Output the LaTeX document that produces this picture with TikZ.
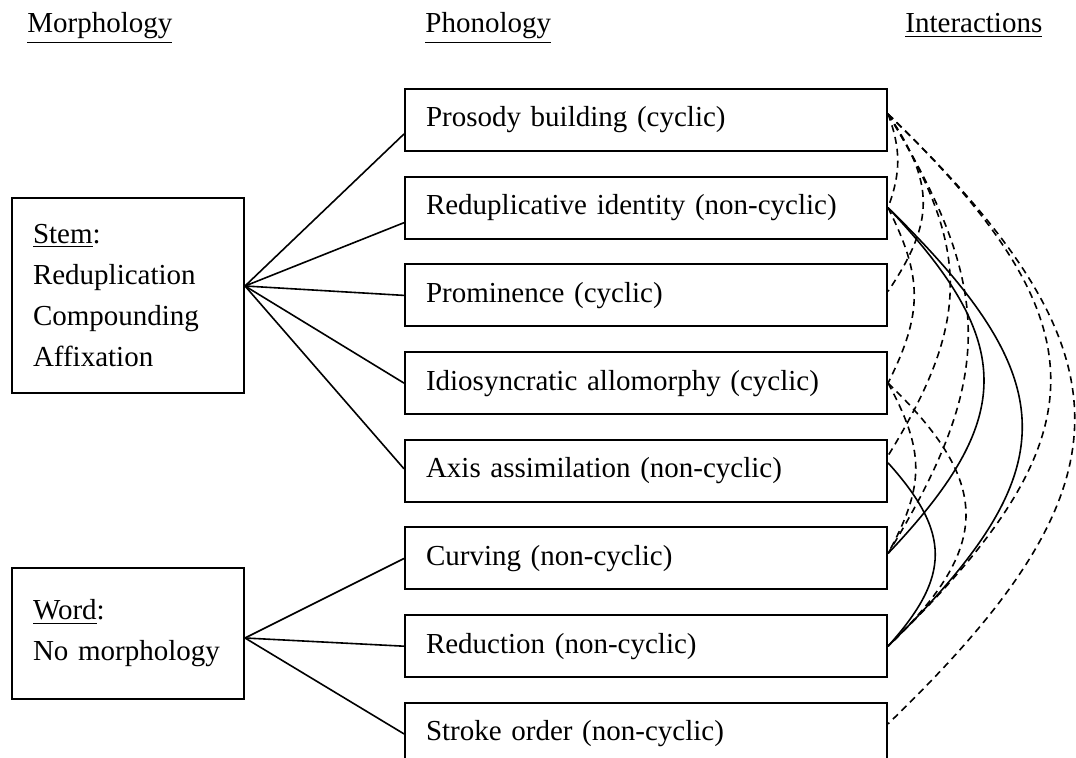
\documentclass[tikz,border=0pt]{standalone}
\usepackage{fontspec}
\setmainfont{Liberation Serif}
\begin{document}
\begin{tikzpicture}[x=0.5pt, y=-0.5pt, font=\fontsize{14.5}{20.5}\selectfont,
  phon/.style={draw, line width=1pt, anchor=north west, minimum height=31pt,
    text width=220pt, inner xsep=10.5pt, align=left},
  morph/.style={draw, line width=1pt, anchor=north west, text width=95pt,
    inner xsep=10.5pt, align=left},
  head/.style={anchor=base west, inner sep=0pt},
  fan/.style={line width=0.8pt},
  link/.style={line width=0.8pt},
  dlink/.style={line width=0.8pt, dash pattern=on 3.5pt off 2.5pt}]

  % ---- canvas (pixel units, y down) ----
  \useasboundingbox (0,0) rectangle (1076,758);
  \clip (0,0) rectangle (1076,758);

  % ---- column headings ----
  \node[head] (hmorph) at (27,33)  {\underline{Morphology}};
  \node[head] (hphon)  at (425,33) {\underline{Phonology}};
  \node[head] (hint)   at (905,33) {\underline{Interactions}};

  % ---- morphology boxes ----
  \node[morph, minimum height=97.5pt] (stem) at (11,197)
    {\underline{Stem}:\\Reduplication\\Compounding\\Affixation};
  \node[morph, minimum height=65.5pt] (word) at (11,567)
    {\underline{Word}:\\No morphology};

  % ---- phonology boxes, pitch 87.7 px ----
  \foreach \i/\txt in {1/{Prosody building (cyclic)},
                       2/{Reduplicative identity (non-cyclic)},
                       3/{Prominence (cyclic)},
                       4/{Idiosyncratic allomorphy (cyclic)},
                       5/{Axis assimilation (non-cyclic)},
                       6/{Curving (non-cyclic)},
                       7/{Reduction (non-cyclic)},
                       8/{Stroke order (non-cyclic)}} {
    \node[phon] (p\i) at (404, {88+87.7*(\i-1)}) {\txt};
  }

  % ---- fans: morphology -> phonology ----
  \coordinate (shub) at ([yshift=4.75pt]stem.east);
  \coordinate (whub) at ([yshift=-2.25pt]word.east);
  \foreach \i/\dy in {1/-7, 2/-7.5, 3/0, 4/0, 5/1}
    \draw[fan] (shub) -- ([yshift=\dy pt]p\i.west);
  \foreach \i in {6,7,8}
    \draw[fan] (whub) -- (p\i.west);

  % ---- interaction end points on the right edge ----
  \coordinate (r1)  at ([yshift=3pt]p1.east);
  \coordinate (r2)  at (p2.east);
  \coordinate (r3)  at ([yshift=2pt]p3.east);
  \coordinate (r4)  at (p4.east);
  \coordinate (r5a) at ([yshift=7.5pt]p5.east);
  \coordinate (r5b) at ([yshift=4pt]p5.east);
  \coordinate (r6)  at ([yshift=2.5pt]p6.east);
  \coordinate (r7)  at (p7.east);
  \coordinate (r8)  at ([yshift=5pt]p8.east);

  % dashed interactions
  \draw[dlink] (r1) .. controls +(13,35)   and +(13,-35)   .. (r2);
  \draw[dlink] (r1) .. controls +(47,70)   and +(47,-70)   .. (r3);
  \draw[dlink] (r1) .. controls +(83,135)  and +(83,-135)  .. (r5a);
  \draw[dlink] (r1) .. controls +(107,175) and +(107,-175) .. (r6);
  \draw[dlink] (r1) .. controls +(217,210) and +(217,-210) .. (r7);
  \draw[dlink] (r1) .. controls +(249,240) and +(249,-240) .. (r8);
  \draw[dlink] (r2) .. controls +(35,70)   and +(35,-70)   .. (r4);
  \draw[dlink] (r4) .. controls +(37,68)   and +(37,-68)   .. (r6);
  \draw[dlink] (r4) .. controls +(104,100) and +(104,-100) .. (r7);

  % solid interactions
  \draw[link] (r2)  .. controls +(128,135) and +(128,-135) .. (r6);
  \draw[link] (r2)  .. controls +(179,175) and +(179,-175) .. (r7);
  \draw[link] (r5b) .. controls +(63,70)   and +(63,-70)   .. (r7);

\end{tikzpicture}
\end{document}
